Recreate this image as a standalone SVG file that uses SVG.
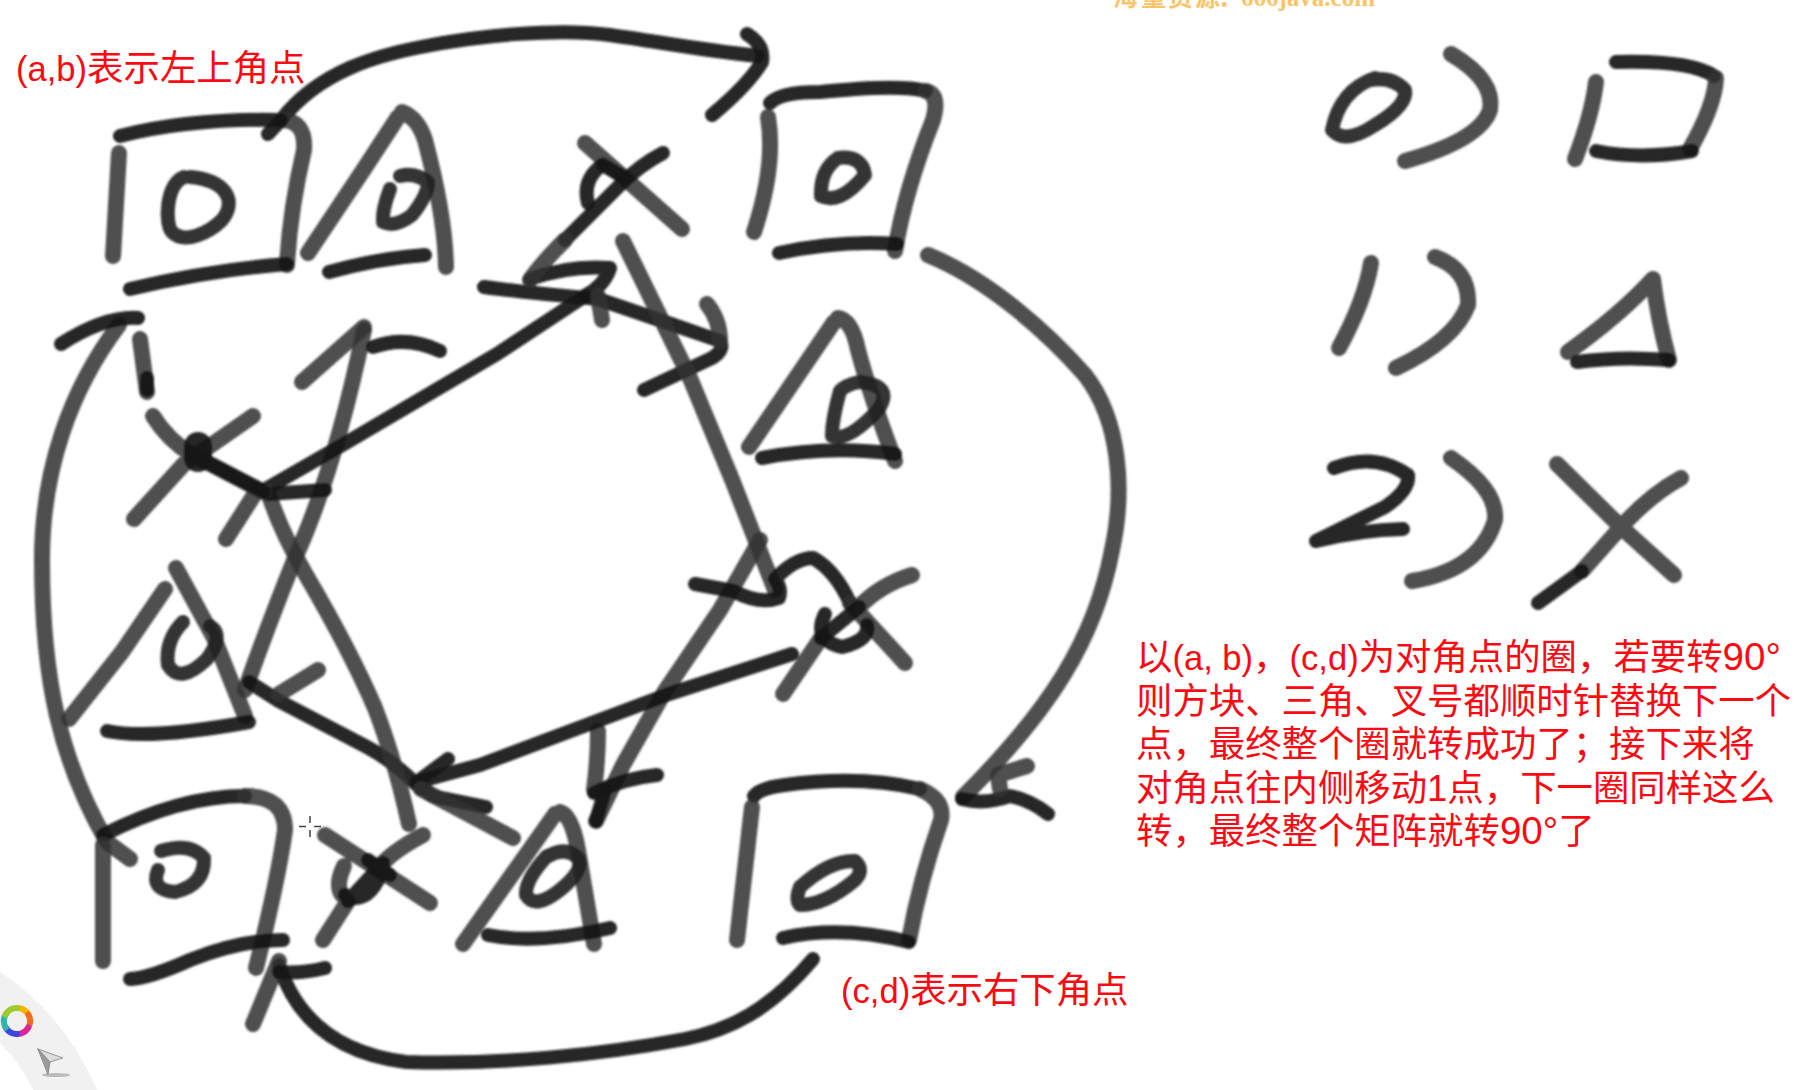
<svg xmlns="http://www.w3.org/2000/svg" width="1820" height="1090" viewBox="0 0 1820 1090">
<style>
text{font-family:"Liberation Sans","Noto Sans CJK SC",sans-serif;font-size:36.4px;fill:#fa0a12}
.lat{font-size:34.6px}
.num{font-size:38.5px}
.wm{font-family:"Liberation Serif","Noto Sans CJK SC",serif;font-size:25px;font-weight:bold;fill:#fcc468}
path{fill:none;stroke-linecap:round;stroke-linejoin:round}
.g{stroke:#333;stroke-width:16;stroke-opacity:.86}
.k{stroke:#151515;stroke-width:14;stroke-opacity:.93}
.o{stroke:#1e1e1e;stroke-width:14;stroke-opacity:.9}
</style>
<defs><filter id="b" x="-5%" y="-5%" width="110%" height="110%"><feGaussianBlur stdDeviation="1.2"/></filter></defs>
<rect width="1820" height="1090" fill="#fff"/>
<text class="wm" x="1113 1141 1168 1195 1218" y="6">海量资源：</text>
<text class="wm" x="1241" y="6">666java.com</text>
<g filter="url(#b)">
<g id="connectors">
<path class="k" d="M281 120C320 70 380 55 421 47C480 35 560 28 610 35C660 42 700 50 758 56"/>
<path class="k" d="M747 34Q765 45 762 62Q748 85 712 115"/>
<path class="g" d="M928 255C990 280 1050 335 1085 375C1120 420 1125 490 1112 550C1095 640 1050 710 963 797"/>
<path class="k" d="M962 799Q985 805 1010 796Q1030 800 1048 814"/>
<path class="g" d="M1027 766L998 775L1000 789"/>
<path class="k" d="M813 959C770 1010 730 1030 685 1039C600 1055 500 1065 406 1062C350 1055 300 1030 279 965"/>
<path class="g" d="M279 961L253 1024"/>
<path class="k" d="M279 972Q300 974 325 968"/>
<path class="g" d="M119 325C70 390 42 470 42 560C42 680 60 760 107 842L130 859"/>
<path class="k" d="M61 344Q105 316 138 318"/>
<path class="g" d="M140 339L147 392"/>
<path class="k" d="M147 378L147 390"/>
<path class="g" d="M364 330Q335 470 295 558Q270 620 245 690"/>
<path class="g" d="M302 382L364 327"/>
<path class="k" d="M373 347Q406 335 440 351"/>
<path class="k" d="M264 490L344 444L497 354L585 296"/>
<path class="k" d="M484 287Q520 292 598 299Q660 320 720 341Q725 350 712 358L644 390"/>
<path class="k" d="M530 279Q570 265 610 268Q605 285 585 296"/>
<path class="g" d="M598 296L602 320"/>
<path class="g" d="M707 304Q720 320 720 341"/>
<path class="g" d="M623 241L690 378L733 482L775 590"/>
<path class="g" d="M760 540L720 610L665 691L623 765L596 821"/>
<path class="k" d="M596 821L605 790"/>
<path class="g" d="M598 731Q598 760 594 790"/>
<path class="k" d="M594 793Q625 778 657 775"/>
<path class="k" d="M695 584L733 591Q760 605 779 598Q782 588 775 579Q795 558 813 558Q835 570 850 603"/>
<path class="k" d="M792 654L669 694L480 765L417 782"/>
<path class="k" d="M448 759L417 782L432 796L486 807"/>
<path class="k" d="M249 682L279 701L367 747Q395 762 421 789"/>
<path class="g" d="M421 789L513 838"/>
<path class="g" d="M318 670L279 694"/>
<path class="g" d="M268 492Q280 530 306 575Q350 650 375 708Q395 760 409 824"/>
<path class="k" d="M268 494L325 490"/>
<path class="g" d="M256 492L226 539"/>
</g>
<g id="square-tl">
<path class="k" d="M120 136Q190 118 281 120"/>
<path class="g" d="M281 120Q306 120 304 150Q290 210 287 265M119 153L113 256"/>
<path class="k" d="M130 289Q210 270 287 264"/>
<path class="k" d="M268 134L281 120"/>
<path class="o" d="M184 177C165 185 165 225 172 232C185 245 210 232 222 220C238 200 225 180 190 177"/>
</g>
<g id="triangle-top">
<path class="g" d="M398 117L364 169L308 253M402 112Q418 118 425 140Q445 215 446 267"/>
<path class="k" d="M329 272Q380 258 425 255"/>
<path class="o" d="M390 189Q382 210 383 222Q395 228 412 215Q428 195 428 182Q415 172 400 176"/>
</g>
<g id="x-top">
<path class="g" d="M585 143L682 229"/>
<path class="k" d="M663 153Q640 165 620 185Q590 215 565 240"/>
<path class="g" d="M565 240Q540 265 530 280"/>
<path class="k" d="M602 165Q582 180 588 203"/>
<path class="k" d="M603 165L625 178"/>
</g>
<g id="square-tr">
<path class="k" d="M770 103Q780 92 820 92Q900 84 926 91"/>
<path class="g" d="M926 91Q940 95 933 120Q905 190 895 251M768 117Q776 165 754 232"/>
<path class="k" d="M779 253Q840 240 897 244"/>
<path class="o" d="M838 158Q820 170 821 196Q840 205 865 175Q862 155 838 158"/>
</g>
<g id="triangle-right">
<path class="g" d="M834 322L749 447M838 318Q852 320 858 350Q870 395 895 461"/>
<path class="k" d="M762 458Q830 445 895 454"/>
<path class="o" d="M840 391Q832 420 832 436Q848 442 878 410Q895 385 859 382Q845 385 840 391"/>
</g>
<g id="x-right">
<path class="g" d="M850 603L905 663M912 575Q880 585 859 607M821 638L783 694"/>
<path class="k" d="M859 607L821 638"/>
<path class="k" d="M825 614Q812 640 842 647Q870 640 867 625"/>
</g>
<g id="square-br">
<path class="k" d="M754 796Q760 788 785 785Q860 775 920 789"/>
<path class="g" d="M920 789Q945 800 941 820Q920 880 909 940M752 807L737 940"/>
<path class="k" d="M783 938Q840 925 909 942"/>
<path class="o" d="M800 887Q830 860 855 861Q865 870 855 880Q825 905 800 905Q795 900 800 887"/>
</g>
<g id="triangle-bottom">
<path class="g" d="M555 814L463 944M560 812Q572 815 578 850L594 944"/>
<path class="k" d="M488 935Q535 945 610 928"/>
<path class="o" d="M547 856Q525 880 526 895Q535 910 560 890Q585 870 578 858Q565 845 545 858"/>
</g>
<g id="x-bottom">
<path class="g" d="M325 835L430 903M423 835Q395 850 383 863M348 901L323 940M344 866Q335 885 342 895"/>
<path class="k" d="M383 863L348 901M345 895Q365 905 378 880M368 860L390 875"/>
</g>
<g id="square-bl">
<path class="k" d="M103 835Q180 796 245 796"/>
<path class="g" d="M245 796Q285 796 285 830Q278 880 256 968M103 845L103 961"/>
<path class="k" d="M283 940Q240 940 190 960Q150 978 130 979"/>
<path class="o" d="M161 851Q190 842 204 858Q205 885 175 892Q150 890 158 870"/>
</g>
<g id="triangle-left">
<path class="g" d="M165 589L122 652L69 719M176 568L214 638L245 716"/>
<path class="k" d="M107 731Q150 740 249 722"/>
<path class="o" d="M183 622Q165 640 168 665Q180 685 207 659Q225 635 210 626"/>
</g>
<g id="x-left">
<path class="g" d="M153 416Q168 440 191 454L264 492M134 519L184 464L253 416"/>
<path class="k" d="M191 454L264 492"/>
<path class="k" d="M198 446L198 458" style="stroke-width:28"/>
</g>
<g id="legend-0">
<path class="o" d="M1375 78Q1340 90 1332 130Q1345 145 1375 125Q1408 105 1405 90Q1392 76 1370 80"/>
<path class="g" d="M1451 54Q1495 80 1490 110Q1480 140 1405 161"/>
<path class="k" d="M1616 62Q1690 60 1714 76"/>
<path class="g" d="M1716 78Q1715 105 1690 149M1596 82Q1592 115 1575 159"/>
<path class="k" d="M1596 151Q1640 160 1692 151"/>
</g>
<g id="legend-1">
<path class="g" d="M1371 263Q1365 300 1339 348"/>
<path class="g" d="M1435 257Q1470 270 1468 305Q1455 340 1396 368"/>
<path class="g" d="M1653 279Q1620 315 1568 352M1653 279Q1658 320 1669 360"/>
<path class="k" d="M1577 362Q1620 356 1669 360"/>
</g>
<g id="legend-2">
<path class="k" d="M1334 468Q1375 452 1408 475Q1410 490 1385 507L1316 541Q1360 530 1403 529"/>
<path class="g" d="M1451 458Q1498 490 1495 520Q1480 570 1412 581"/>
<path class="g" d="M1557 464L1621 527L1674 575M1681 478Q1650 495 1621 527L1582 571"/>
<path class="k" d="M1582 571L1538 603"/>
</g>
</g>
<g id="labels">
<text x="16" y="81"><tspan class="lat">(a,b)</tspan>表示左上角点</text>
<text x="841" y="1003"><tspan class="lat">(c,d)</tspan>表示右下角点</text>
<text x="1136" y="670">以<tspan class="lat">(a, b)</tspan>，<tspan class="lat">(c,d)</tspan>为对角点的圈，若要转<tspan class="num">90°</tspan></text>
<text x="1136" y="714">则方块、三角、叉号都顺时针替换下一个</text>
<text x="1136" y="757">点，最终整个圈就转成功了；接下来将</text>
<text x="1136" y="801">对角点往内侧移动1点，下一圈同样这么</text>
<text x="1136" y="844">转，最终整个矩阵就转<tspan class="num">90°</tspan>了</text>
</g>
<g id="toolbar">
<path d="M0 972Q65 1015 97 1090L33 1090Q20 1062 0 1043Z" style="fill:#f1f1f1"/>
<path d="M17 1008a13 13 0 0 1 11.300 6.500" stroke="#f7b500" stroke-width="6"/>
<path d="M28.300 1014.500a13 13 0 0 1 0 13" stroke="#f36b21" stroke-width="6"/>
<path d="M28.300 1027.500a13 13 0 0 1-11.300 6.500" stroke="#d9269b" stroke-width="6"/>
<path d="M17 1034a13 13 0 0 1-11.300-6.500" stroke="#3a48e0" stroke-width="6"/>
<path d="M5.700 1027.500a13 13 0 0 1 0-13" stroke="#2fb7a8" stroke-width="6"/>
<path d="M5.700 1014.500a13 13 0 0 1 11.300-6.500" stroke="#9ecb2d" stroke-width="6"/>
<ellipse cx="56" cy="1075" rx="14" ry="2" fill="#bbb"/>
<path d="M38 1049L63 1058L50 1062Z" style="fill:#dcdcdc;stroke:#999;stroke-width:1"/>
<path d="M38 1049L50 1062L48 1074Z" style="fill:#9a9a9a;stroke:#888;stroke-width:1"/>
</g>
<g id="cursor"><path d="M310 816V823M310 830V837M299 826.500H306M314 826.500H321" stroke="#444" stroke-width="1.500" style="stroke-linecap:butt"/></g>
</svg>
